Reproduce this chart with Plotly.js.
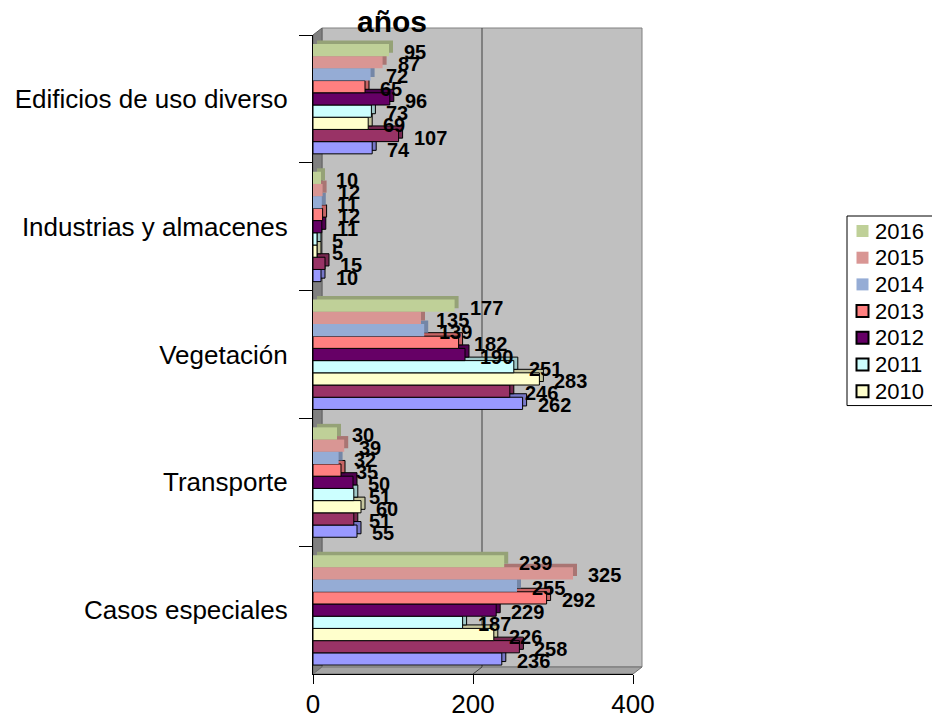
<!DOCTYPE html>
<html><head><meta charset="utf-8">
<script src="https://cdn.plot.ly/plotly-3.0.1.min.js"></script>
<style>html,body{margin:0;padding:0;background:#fff;} #chart{width:932px;height:717px;}</style>
</head><body><div id="chart"></div>
<script>
// ---------- DATA ----------
const categories = ['Edificios de uso diverso', 'Industrias y almacenes', 'Vegetación', 'Transporte', 'Casos especiales'];
const seriesNames = ['2016', '2015', '2014', '2013', '2012', '2011', '2010', '2009', '2008'];
const v2016 = [95, 10, 177, 30, 239];
const v2015 = [87, 12, 135, 39, 325];
const v2014 = [72, 11, 139, 32, 255];
const v2013 = [65, 12, 182, 35, 292];
const v2012 = [96, 11, 190, 50, 229];
const v2011 = [73, 5, 251, 51, 187];
const v2010 = [69, 5, 283, 60, 226];
const v2009 = [107, 15, 246, 51, 258];
const v2008 = [74, 10, 262, 55, 236];
const xTickVals = [0, 200, 400];
const titleText = 'años';

// ---------- STYLE ----------
const seriesValues = [v2016, v2015, v2014, v2013, v2012, v2011, v2010, v2009, v2008];
const colors = ['#bfd098', '#d99694', '#95acd5', '#ff8080', '#660066', '#ccffff', '#ffffcc', '#993366', '#9999ff'];
const outlined = [false, false, false, true, true, true, true, true, true];
const inLegend = [true, true, true, true, true, true, true, false, false];
const FONT = 'Arial, "Liberation Sans", sans-serif';

const W = 932, H = 717, L = 313, R = 633, T = 35, B = 674;
const xMax = 400;
const scale = (R - L) / xMax;            // px per unit
const band = (B - T) / categories.length; // px per category
const nS = seriesNames.length;
const span = 0.86, bw = span / nS;
const capPx = 4, capUp = 3.5;
const wallDx = 9, wallDy = 7;

function shade(hex, f) {
  const n = parseInt(hex.slice(1), 16);
  const r = Math.round(((n >> 16) & 255) * f), g = Math.round(((n >> 8) & 255) * f), b = Math.round((n & 255) * f);
  return 'rgb(' + r + ',' + g + ',' + b + ')';
}
const px2x = p => (p - L) / (R - L);
const py2y = p => (B - p) / (B - T);

const traces = [];
for (let i = nS - 1; i >= 0; i--) {
  const off = -span / 2 + i * bw;
  const line = outlined[i] ? {color: '#000', width: 1} : {width: 0};
  traces.push({
    type: 'bar', orientation: 'h', y: categories, x: seriesValues[i],
    base: capPx / scale, offset: off - capUp / band, width: bw,
    marker: {color: shade(colors[i], 0.78), line: line},
    showlegend: false, hoverinfo: 'skip'
  });
  traces.push({
    type: 'bar', orientation: 'h', name: seriesNames[i], y: categories, x: seriesValues[i],
    offset: off, width: bw,
    marker: {color: colors[i], line: line},
    showlegend: false
  });
}

const annotations = [];
for (let i = 0; i < nS; i++) {
  seriesValues[i].forEach((v, j) => {
    annotations.push({
      x: v, y: j - span / 2 + (i + 0.5) * bw, xref: 'x', yref: 'y',
      text: String(v), showarrow: false, xanchor: 'left', yanchor: 'middle',
      xshift: 13, yshift: -2,
      font: {family: FONT, size: 20, color: '#000', weight: 'bold'}
    });
  });
}
annotations.push({
  x: px2x(392), y: py2y(22), xref: 'paper', yref: 'paper', text: titleText,
  showarrow: false, xanchor: 'center', yanchor: 'middle',
  font: {family: FONT, size: 30, color: '#000', weight: 'bold'}
});

const bx0 = L + wallDx, by0 = T - wallDy, bx1 = R + wallDx, by1 = B - wallDy;
const g200 = L + 200 * scale;
const shapes = [
  {type: 'rect', xref: 'paper', yref: 'paper', layer: 'below',
   x0: px2x(bx0), x1: px2x(bx1), y0: py2y(by1), y1: py2y(by0),
   fillcolor: '#c0c0c0', line: {color: '#808080', width: 1}},
  {type: 'path', xref: 'paper', yref: 'paper', layer: 'below',
   path: `M${px2x(L)},${py2y(T)} L${px2x(bx0)},${py2y(by0)} L${px2x(bx0)},${py2y(by1)} L${px2x(L)},${py2y(B)} Z`,
   fillcolor: '#808080', line: {color: '#606060', width: 1}},
  {type: 'path', xref: 'paper', yref: 'paper', layer: 'below',
   path: `M${px2x(L)},${py2y(B)} L${px2x(bx0)},${py2y(by1)} L${px2x(bx1)},${py2y(by1)} L${px2x(R)},${py2y(B)} Z`,
   fillcolor: '#a4a4a4', line: {color: '#707070', width: 1}},
  {type: 'line', xref: 'paper', yref: 'paper', layer: 'below',
   x0: px2x(g200 + wallDx), x1: px2x(g200 + wallDx), y0: py2y(by1), y1: py2y(by0),
   line: {color: '#404040', width: 1}},
  {type: 'line', xref: 'paper', yref: 'paper', layer: 'below',
   x0: px2x(g200 + wallDx), x1: px2x(g200), y0: py2y(by1), y1: py2y(B),
   line: {color: '#404040', width: 1}}
];

// ---------- LEGEND (drawn as shapes + text, clipped at right edge like the reference) ----------
const legL = 847, legT = 216, rowH = 26.7, legPadTop = 15;
const legItems = [];
for (let i = 0; i < nS; i++) if (inLegend[i]) legItems.push(i);
const legB = legT + legPadTop + rowH * (legItems.length - 0.5) + 1;
shapes.push({type: 'rect', xref: 'paper', yref: 'paper',
  x0: px2x(legL), x1: px2x(W + 20), y0: py2y(legB), y1: py2y(legT),
  fillcolor: '#fff', line: {color: '#000', width: 1}});
legItems.forEach((i, k) => {
  const cy = legT + legPadTop + k * rowH;
  shapes.push({type: 'rect', xref: 'paper', yref: 'paper',
    x0: px2x(856.5), x1: px2x(868.5), y0: py2y(cy + 6), y1: py2y(cy - 6),
    fillcolor: colors[i], line: outlined[i] ? {color: '#000', width: 2} : {width: 0}});
  annotations.push({x: px2x(873), y: py2y(cy), xref: 'paper', yref: 'paper',
    text: seriesNames[i], showarrow: false, xanchor: 'left', yanchor: 'middle',
    font: {family: FONT, size: 22, color: '#000'}});
});

const layout = {
  width: W, height: H,
  margin: {l: L, r: W - R, t: T, b: H - B, pad: 0, autoexpand: false},
  paper_bgcolor: '#fff', plot_bgcolor: 'rgba(0,0,0,0)',
  barmode: 'overlay', showlegend: false,
  font: {family: FONT, color: '#000'},
  xaxis: {range: [0, xMax], tickvals: xTickVals, ticktext: xTickVals.map(String),
          showgrid: false, zeroline: false, showline: true, linecolor: '#000', linewidth: 1,
          ticks: 'outside', ticklen: 9, tickcolor: '#000', tickfont: {size: 26, family: FONT},
          ticklabelstandoff: -2, fixedrange: true},
  yaxis: {type: 'category', categoryarray: categories, categoryorder: 'array', range: [categories.length - 0.5, -0.5],
          showgrid: false, zeroline: false, showline: true, linecolor: '#000', linewidth: 1,
          ticks: 'outside', tickson: 'boundaries', ticklen: 13, tickcolor: '#000',
          tickfont: {size: 26, family: FONT}, ticklabelstandoff: 19, fixedrange: true},
  shapes: shapes,
  annotations: annotations
};
Plotly.newPlot('chart', traces, layout, {displayModeBar: false, staticPlot: true});
</script>
</body></html>
